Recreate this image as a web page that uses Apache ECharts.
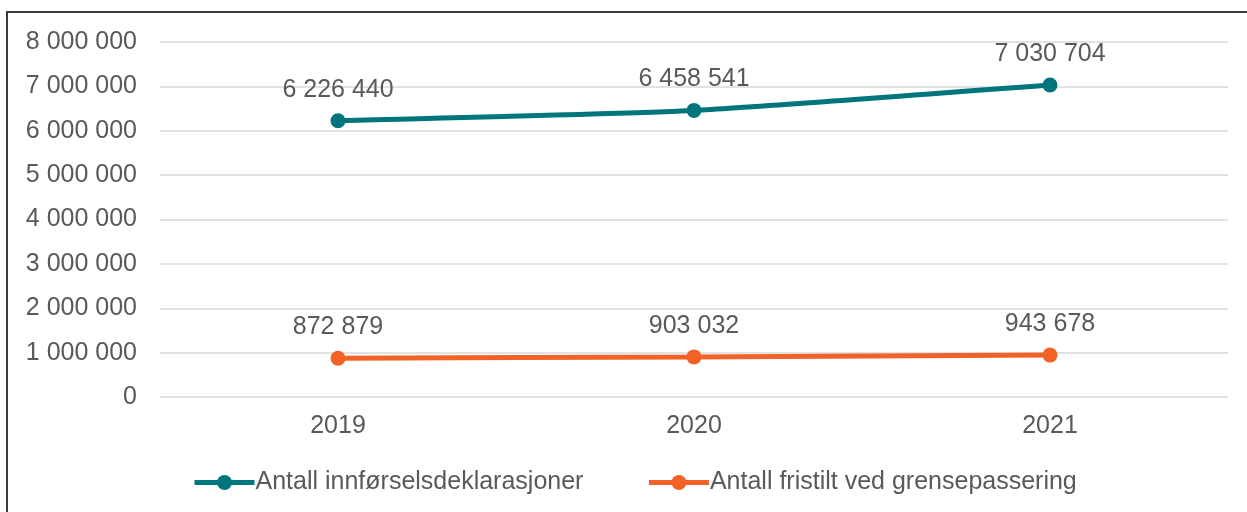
<!DOCTYPE html>
<html>
<head>
<meta charset="utf-8">
<script src="https://cdn.jsdelivr.net/npm/echarts@6/dist/echarts.min.js"></script>
<style>
  html, body { margin: 0; padding: 0; background: #fff; }
  #frame {
    position: absolute; left: 6px; top: 11px; width: 1300px; height: 600px;
    border-left: 2px solid #3a3a3a; border-top: 2px solid #3a3a3a;
  }
  #chart { position: absolute; left: 0; top: 0; width: 1247px; height: 512px; }
</style>
</head>
<body>
<div id="frame"></div>
<div id="chart"></div>
<script>
const years = ["2019", "2020", "2021"];
const innforsel = [6226440, 6458541, 7030704];
const fristilt = [872879, 903032, 943678];
const seriesNames = ["Antall innførselsdeklarasjoner", "Antall fristilt ved grensepassering"];

const fmt = (v) => String(v).replace(/\B(?=(\d{3})+(?!\d))/g, " ");

const chart = echarts.init(document.getElementById("chart"));

function lineSeries(name, data, color) {
  return {
    name: name,
    type: "line",
    data: data,
    symbol: "circle",
    symbolSize: 15,
    smooth: 0.15,
    lineStyle: { color: color, width: 5 },
    itemStyle: { color: color },
    label: {
      show: true,
      position: "top",
      distance: 11,
      color: "#595959",
      fontSize: 25,
      fontFamily: "Liberation Sans",
      formatter: (p) => fmt(p.value),
    },
  };
}

chart.setOption({
  backgroundColor: "transparent",
  animation: false,
  textStyle: { fontFamily: "Liberation Sans" },
  grid: { left: 160, right: 19, top: 42, bottom: 115 },
  legend: {
    top: 465,
    left: 187,
    itemWidth: 60,
    itemHeight: 19,
    itemGap: 63,
    lineStyle: { width: 5 },
    textStyle: { color: "#595959", fontSize: 25, fontFamily: "Liberation Sans", padding: [0, 0, 0, -4] },
    data: seriesNames,
  },
  xAxis: {
    type: "category",
    data: years,
    boundaryGap: true,
    axisLine: { show: false },
    axisTick: { show: false },
    axisLabel: { color: "#595959", fontSize: 25, margin: 17 },
  },
  yAxis: {
    type: "value",
    min: 0,
    max: 8000000,
    interval: 1000000,
    axisLine: { show: false },
    axisTick: { show: false },
    axisLabel: { color: "#595959", fontSize: 25, margin: 23, formatter: fmt },
    splitLine: { lineStyle: { color: "#d9d9d9", width: 1.5 } },
  },
  series: [
    lineSeries(seriesNames[0], innforsel, "#00757e"),
    lineSeries(seriesNames[1], fristilt, "#f26226"),
  ],
});
</script>
</body>
</html>
